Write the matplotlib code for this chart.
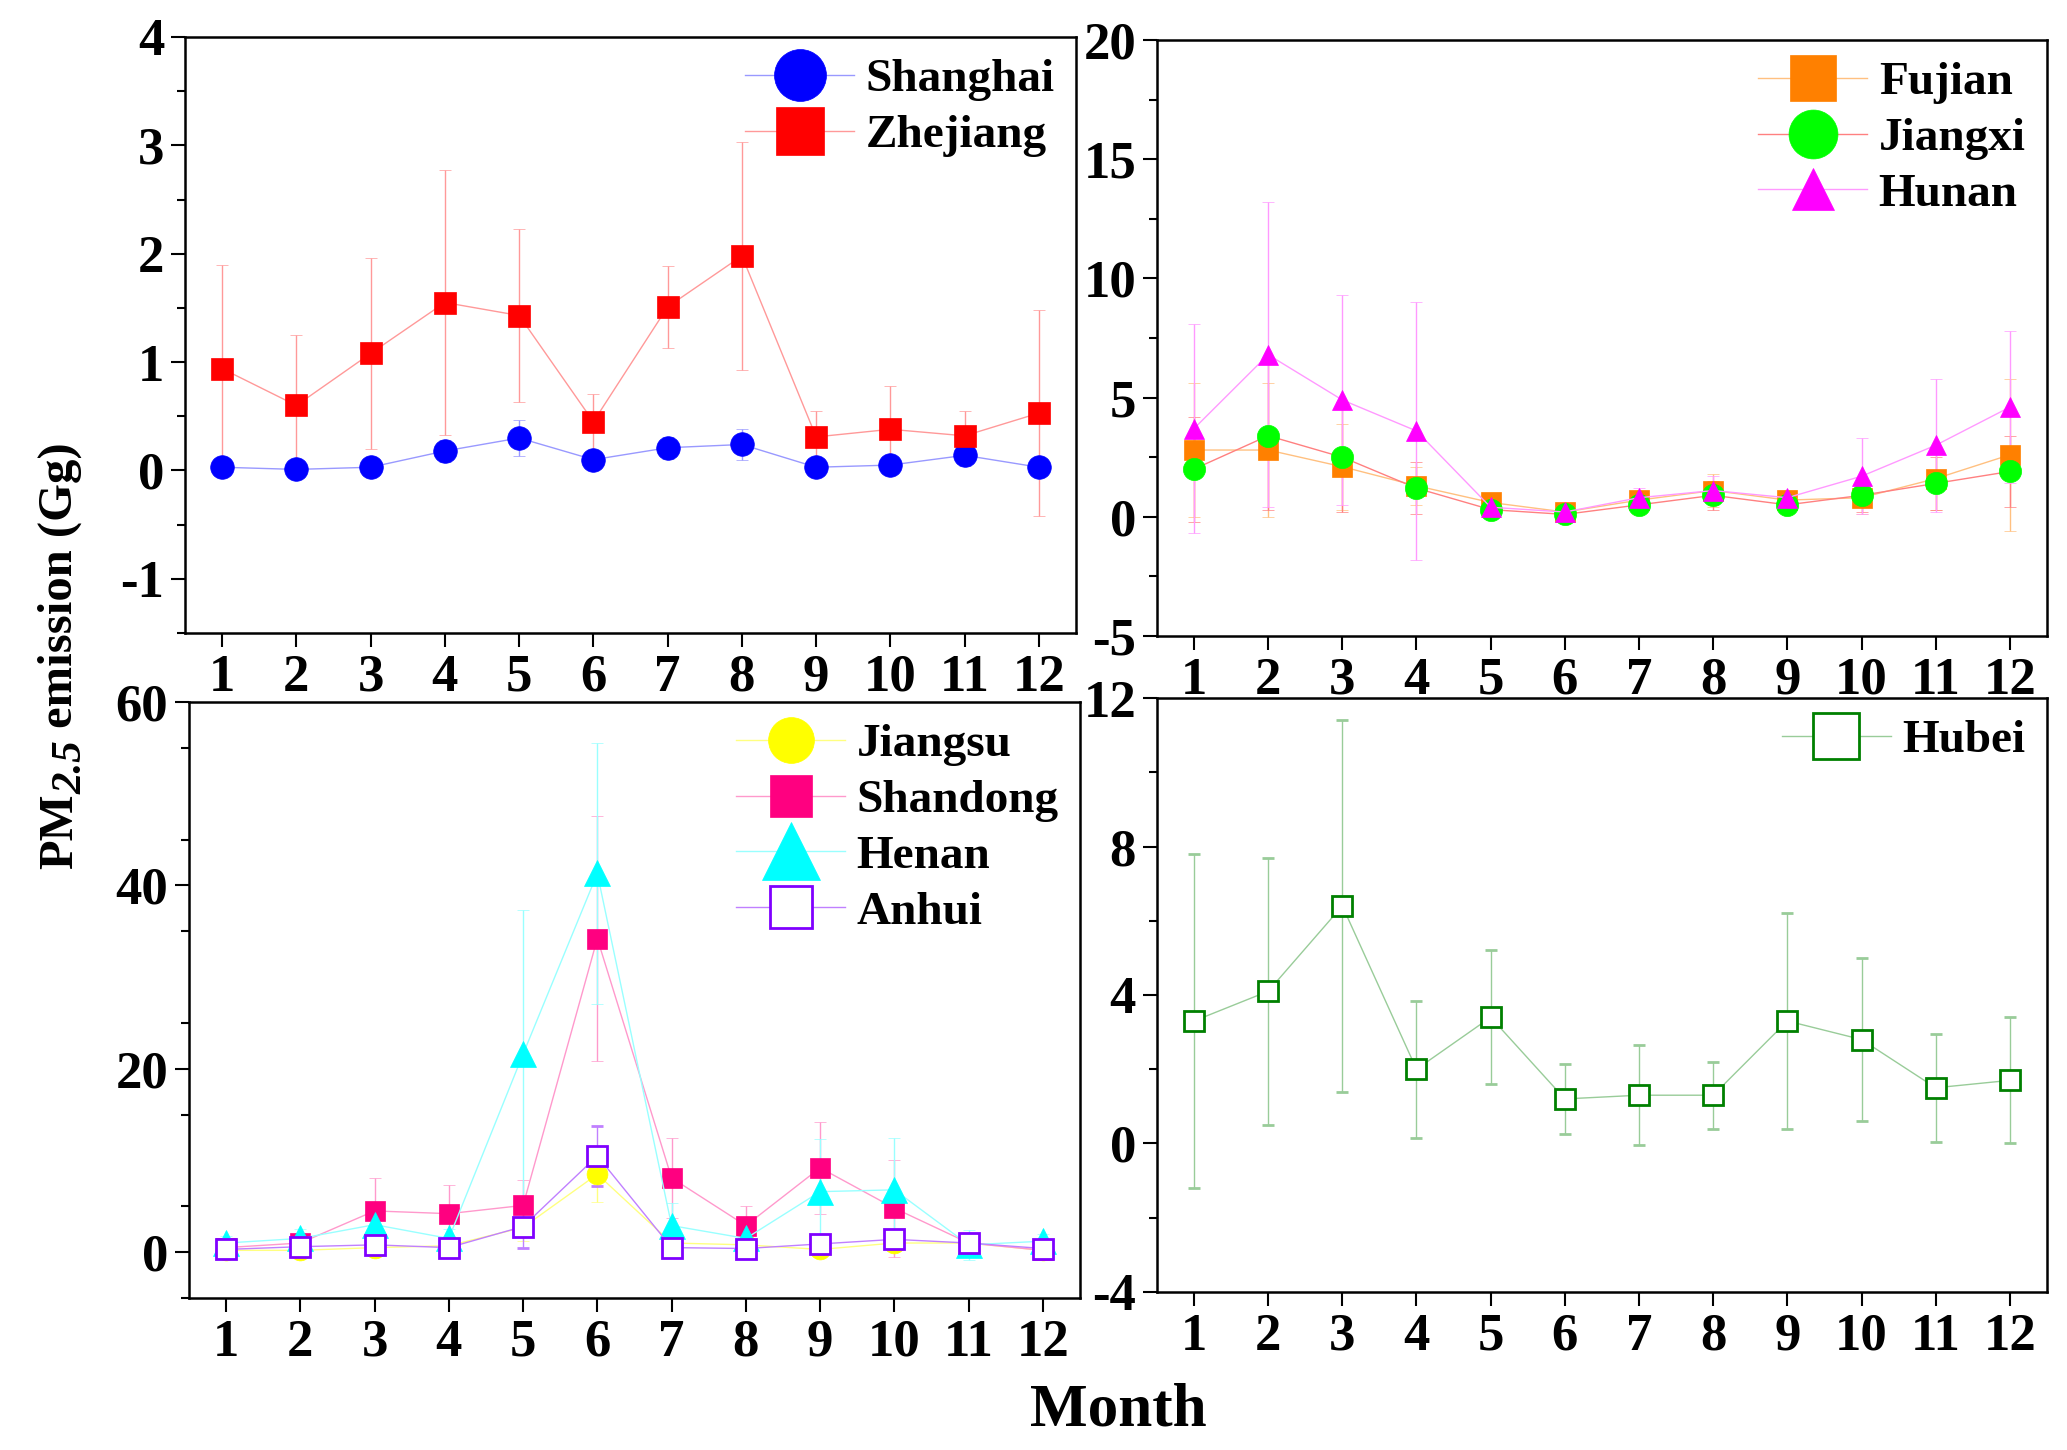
import matplotlib
matplotlib.use("Agg")
import matplotlib.pyplot as plt
import numpy as np

plt.rcParams['font.family'] = ['Liberation Serif', 'DejaVu Serif']
plt.rcParams['font.weight'] = 'bold'
plt.rcParams['axes.unicode_minus'] = False

months = np.arange(1, 13)

# panel a
shanghai = [0.03, 0.01, 0.03, 0.18, 0.30, 0.10, 0.21, 0.24, 0.03, 0.05, 0.14, 0.03]
shanghai_err = [0.05, 0.03, 0.04, 0.10, 0.17, 0.08, 0.10, 0.14, 0.04, 0.06, 0.10, 0.04]
zhejiang = [0.94, 0.60, 1.08, 1.55, 1.43, 0.45, 1.51, 1.98, 0.31, 0.38, 0.32, 0.53]
zhejiang_err = [0.96, 0.65, 0.88, 1.22, 0.80, 0.26, 0.38, 1.05, 0.24, 0.40, 0.23, 0.95]

# panel b
fujian = [2.8, 2.8, 2.1, 1.3, 0.6, 0.2, 0.7, 1.1, 0.7, 0.8, 1.6, 2.6]
fujian_err = [2.8, 2.8, 1.8, 0.8, 0.4, 0.2, 0.3, 0.7, 0.3, 0.7, 1.3, 3.2]
jiangxi = [2.0, 3.4, 2.5, 1.2, 0.3, 0.1, 0.5, 0.9, 0.5, 0.9, 1.4, 1.9]
jiangxi_err = [2.2, 3.1, 2.3, 1.1, 0.3, 0.1, 0.3, 0.6, 0.3, 0.7, 1.1, 1.5]
hunan = [3.7, 6.8, 4.9, 3.6, 0.4, 0.2, 0.8, 1.1, 0.8, 1.7, 3.0, 4.6]
hunan_err = [4.4, 6.4, 4.4, 5.4, 0.4, 0.2, 0.4, 0.6, 0.3, 1.6, 2.8, 3.2]

# panel c
jiangsu = [0.2, 0.2, 0.5, 0.7, 2.7, 8.5, 1.0, 0.8, 0.3, 1.0, 1.0, 0.2]
jiangsu_err = [0.3, 0.3, 0.5, 0.5, 1.5, 3.0, 0.6, 0.5, 0.4, 0.6, 0.5, 0.3]
shandong = [0.5, 1.0, 4.5, 4.2, 5.1, 34.2, 8.1, 2.9, 9.2, 4.8, 1.0, 0.2]
shandong_err = [0.6, 0.8, 3.6, 3.1, 2.8, 13.4, 4.4, 2.1, 5.0, 5.3, 0.8, 0.4]
henan = [1.0, 1.5, 3.0, 1.5, 21.6, 41.3, 2.9, 1.5, 6.6, 6.8, 0.8, 1.2]
henan_err = [0.8, 1.0, 2.0, 1.0, 15.7, 14.2, 2.5, 1.0, 5.7, 5.6, 1.6, 0.8]
anhui = [0.3, 0.6, 0.8, 0.5, 2.8, 10.5, 0.5, 0.4, 0.9, 1.4, 1.0, 0.4]
anhui_err = [0.3, 0.4, 0.6, 0.4, 2.3, 3.3, 0.4, 0.4, 0.6, 0.8, 0.5, 0.3]

# panel d
hubei = [3.3, 4.1, 6.4, 2.0, 3.4, 1.2, 1.3, 1.3, 3.3, 2.8, 1.5, 1.7]
hubei_err = [4.5, 3.6, 5.0, 1.85, 1.8, 0.95, 1.35, 0.9, 2.9, 2.2, 1.45, 1.7]

fig = plt.figure(figsize=(20.67, 14.5), dpi=100)
ax_a = fig.add_axes([0.0895, 0.5634, 0.4311, 0.4111])
ax_b = fig.add_axes([0.5597, 0.5614, 0.4306, 0.4110])
ax_c = fig.add_axes([0.0914, 0.1048, 0.4311, 0.4111])
ax_d = fig.add_axes([0.5597, 0.1090, 0.4306, 0.4096])


def series(ax, y, err, color, line_color, marker, ms, label, open_marker=False):
    face = 'white' if open_marker else color
    ax.errorbar(months, y, yerr=err, color=line_color, lw=1.0, elinewidth=1.0,
                capsize=4, capthick=1.0, marker=marker, ms=ms,
                mfc=face, mec=color, mew=2.0 if open_marker else 0.5,
                label=label)


def style(ax, ylim, major_ticks, minor):
    ax.set_xlim(0.5, 12.5)
    ax.set_ylim(*ylim)
    ax.set_xticks(months)
    ax.set_yticks(major_ticks)
    ax.set_yticks(np.arange(ylim[0], ylim[1] + 0.01, minor), minor=True)
    ax.tick_params(axis='both', which='major', direction='out', length=10, width=1.5,
                   labelsize=38, pad=5)
    ax.tick_params(axis='y', which='minor', direction='out', length=6, width=1.5)
    ax.tick_params(axis='x', which='minor', bottom=False)
    for s in ax.spines.values():
        s.set_linewidth(1.8)


series(ax_a, shanghai, shanghai_err, '#0000ff', '#9999ff', 'o', 17, 'Shanghai')
series(ax_a, zhejiang, zhejiang_err, '#ff0000', '#ff9999', 's', 16, 'Zhejiang')
style(ax_a, (-1.5, 4), np.arange(-1, 4.01, 1), 0.5)

series(ax_b, fujian, fujian_err, '#ff8000', '#ffc080', 's', 15, 'Fujian')
series(ax_b, jiangxi, jiangxi_err, '#00ff00', '#ff8080', 'o', 16, 'Jiangxi')
series(ax_b, hunan, hunan_err, '#ff00ff', '#ff99ff', '^', 14, 'Hunan')
style(ax_b, (-5, 20), np.arange(-5, 20.1, 5), 2.5)

series(ax_c, jiangsu, jiangsu_err, '#ffff00', '#ffff80', 'o', 15, 'Jiangsu')
series(ax_c, shandong, shandong_err, '#ff0080', '#ff99cc', 's', 14, 'Shandong')
series(ax_c, henan, henan_err, '#00ffff', '#99ffff', '^', 19, 'Henan')
series(ax_c, anhui, anhui_err, '#8000ff', '#c080ff', 's', 14, 'Anhui', open_marker=True)
style(ax_c, (-5, 60), np.arange(0, 60.1, 20), 10)

series(ax_d, hubei, hubei_err, '#008000', '#99cc99', 's', 15, 'Hubei', open_marker=True)
style(ax_d, (-4, 12), np.arange(-4, 12.1, 4), 2)

for ax in [ax_a, ax_b, ax_c, ax_d]:
    handles, labels = ax.get_legend_handles_labels()
    handles = [h[0] for h in handles]
    ax.legend(handles, labels, loc='upper right', frameon=False,
              markerscale=2.2, handlelength=2.3, handletextpad=0.25,
              labelspacing=0.27, borderaxespad=0.15, borderpad=0.3,
              prop={'family': 'Liberation Serif', 'weight': 'bold', 'size': 34})

# y label built from pieces so the italic "2.5" can keep a large size
renderer = fig.canvas.get_renderer()
x0 = 0.029
parts = [('PM', 35, 'normal', 0.0), ('2.5', 31, 'italic', 12.0),
         (' emission (Gg)', 35, 'normal', 0.0)]
texts = []
for s, size, style_, dx in parts:
    t = fig.text(x0 + dx / fig.bbox.width, 0.5, s, rotation=90, ha='center',
                 va='bottom', fontsize=size, fontstyle=style_, fontweight='bold')
    texts.append(t)
heights = [t.get_window_extent(renderer).height / fig.bbox.height for t in texts]
y = 0.5476 - sum(heights) / 2
for t, h in zip(texts, heights):
    t.set_y(y)
    y += h

fig.text(0.541, 0.027, 'Month', ha='center', va='center', fontsize=44,
         fontweight='bold')

fig.savefig('out.png', dpi=100)
